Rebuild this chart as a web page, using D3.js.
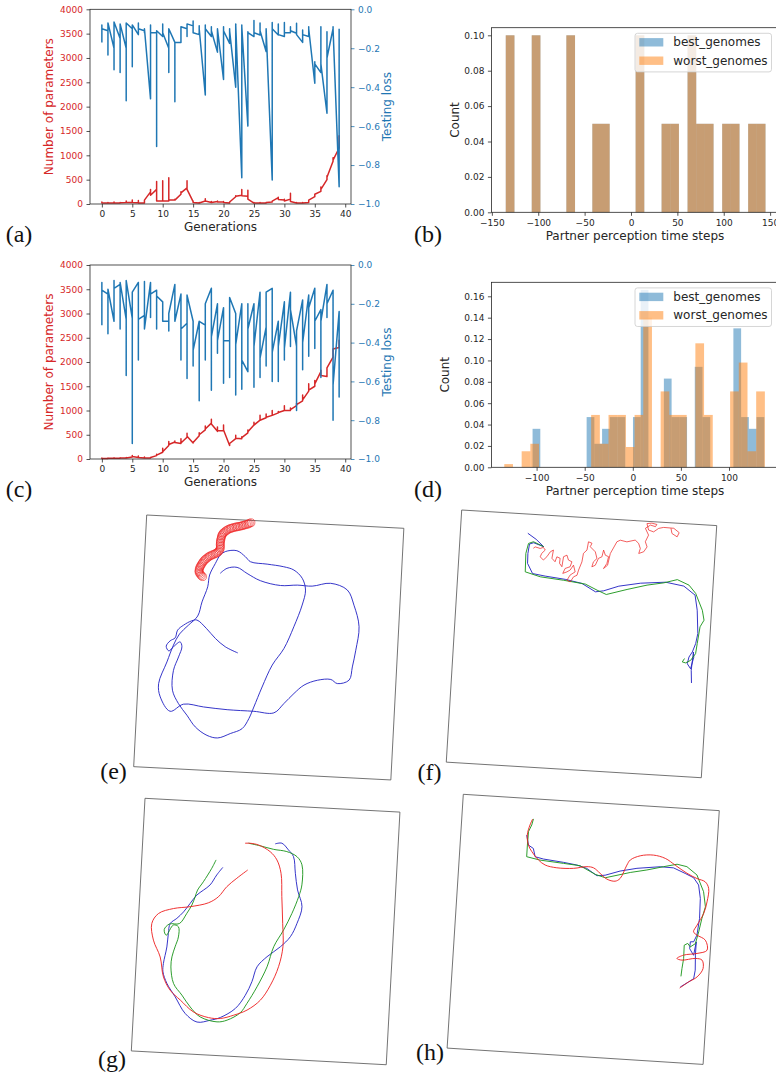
<!DOCTYPE html>
<html>
<head>
<meta charset="utf-8">
<script src="https://cdn.jsdelivr.net/npm/d3@7"></script>
<style>
  body { margin: 0; background: #fff; }
  svg text { font-family: "DejaVu Sans", sans-serif; }
</style>
</head>
<body>
<div id="fig"></div>
<script>
// ---------- data ----------
var gens = d3.range(40);
var genTicks = [0, 5, 10, 15, 20, 25, 30, 35, 40];
var paramTicks = [0, 500, 1000, 1500, 2000, 2500, 3000, 3500, 4000];
var lossTicks = [-1, -0.8, -0.6, -0.4, -0.2, 0];

// (a) testing loss / number of parameters, several individuals per generation
var lossA = [[-0.17,-0.08,-0.10],[-0.11,-0.235,-0.07],[-0.2,-0.31,-0.065],[-0.15,-0.325,-0.075],[-0.2,-0.47,-0.07],
  [-0.1,-0.295,-0.08],[-0.13,-0.07,-0.1],[-0.11,-0.12,-0.1],[-0.46,-0.08,-0.12],[-0.12,-0.705,-0.11],
  [-0.14,-0.075,-0.12],[-0.2,-0.325,-0.1],[-0.17,-0.475,-0.17],[-0.17,-0.1,-0.09],[-0.1,-0.14,-0.075],
  [-0.085,-0.06,-0.12],[-0.13,-0.085,-0.1],[-0.44,-0.08,-0.1],[-0.14,-0.09,-0.11],[-0.22,-0.1,-0.1],
  [-0.36,-0.09,-0.11],[-0.175,-0.1,-0.11],[-0.4,-0.075,-0.08],[-0.865,-0.08,-0.09],[-0.6,-0.115,-0.12],
  [-0.14,-0.058,-0.12],[-0.132,-0.07,-0.11],[-0.217,-0.1,-0.1],[-0.877,-0.068,-0.1],[-0.132,-0.075,-0.13],
  [-0.14,-0.068,-0.12],[-0.12,-0.089,-0.11],[-0.123,-0.072,-0.13],[-0.17,-0.106,-0.13],[-0.14,-0.089,-0.1],
  [-0.38,-0.27,-0.28],[-0.325,-0.089,-0.28],[-0.534,-0.115,-0.25],[-0.1,-0.089,-0.1],[-0.911,-0.106,-0.1]];
var paramsA = [[20,40,20],[20,30,20],[25,40,20],[20,30,25],[30,60,30],[30,80,30],[25,70,20],[20,30,80],
  [250,300,180],[300,460,60],[60,480,60],[60,540,80],[80,100,80],[200,250,230],[330,480,300],[50,60,30],
  [20,30,20],[60,110,60],[30,50,30],[50,60,40],[40,50,30],[20,30,40],[150,170,160],[180,300,170],
  [160,280,100],[20,30,20],[20,30,20],[20,30,30],[40,50,60],[130,140,90],[80,100,60],[100,220,50],
  [20,30,20],[20,30,20],[30,40,80],[150,170,200],[260,350,300],[500,580,550],[880,950,900],[1150,1400,1250]];

// (c)
var lossC = [[-0.31,-0.09,-0.13],[-0.15,-0.355,-0.125],[-0.29,-0.08,-0.12],[-0.10,-0.33,-0.09],[-0.28,-0.57,-0.08],
  [-0.275,-0.92,-0.14],[-0.09,-0.49,-0.28],[-0.26,-0.085,-0.33],[-0.09,-0.27,-0.15],[-0.13,-0.33,-0.16],
  [-0.19,-0.29,-0.29],[-0.29,-0.34,-0.25],[-0.10,-0.29,-0.29],[-0.15,-0.49,-0.33],[-0.30,-0.585,-0.155],
  [-0.29,-0.52,-0.44],[-0.29,-0.70,-0.29],[-0.31,-0.49,-0.2],[-0.12,-0.645,-0.37],[-0.2,-0.455,-0.39],
  [-0.22,-0.61,-0.39],[-0.39,-0.58,-0.167],[-0.25,-0.67,-0.41],[-0.2,-0.64,-0.49],[-0.55,-0.2,-0.33],
  [-0.2,-0.63,-0.42],[-0.14,-0.58,-0.48],[-0.32,-0.52,-0.14],[-0.12,-0.60,-0.45],[-0.29,-0.60,-0.42],
  [-0.19,-0.49,-0.43],[-0.14,-0.42,-0.23],[-0.42,-0.75,-0.34],[-0.18,-0.54,-0.4],[-0.155,-0.47,-0.22],
  [-0.12,-0.43,-0.29],[-0.23,-0.58,-0.29],[-0.1,-0.27,-0.2],[-0.13,-0.8,-0.62],[-0.24,-0.68,-0.45]];
var paramsC = [[10,20,10],[10,20,15],[15,25,15],[15,25,20],[20,30,20],[40,70,50],[30,60,30],[20,40,20],
  [20,30,30],[70,100,80],[140,220,150],[280,360,300],[350,370,340],[320,420,330],[450,530,470],[330,350,340],
  [480,540,500],[600,680,620],[740,820,720],[570,660,580],[580,700,600],[280,300,320],[420,490,430],[420,460,440],
  [540,600,560],[700,760,700],[800,900,800],[850,930,860],[900,1000,900],[950,980,960],[1000,1100,1000],[1000,1050,1020],
  [1100,1150,1120],[1200,1320,1220],[1400,1550,1420],[1500,1620,1550],[1800,1830,1720],[1700,1850,1880],[2100,2260,2270],[2300,2450,2280]];

// (b) histogram, 30 bins
var bStart = -135, bWidth = 280 / 30;
var bBest  = [0.1,0,0,0.1,0,0,0,0.1,0,0,0.05,0.05,0,0,0,0.1,0,0,0.05,0.05,0,0.1,0.05,0.05,0,0.05,0.05,0,0.05,0.05];
var bWorst = [0.1,0,0,0.1,0,0,0,0.1,0,0,0.05,0.05,0,0,0,0.1,0,0,0.05,0.05,0,0.1,0.05,0.05,0,0.05,0.05,0,0.05,0.05];
var bTicksX = [-150, -100, -50, 0, 50, 100, 150];
var bTicksY = [0, 0.02, 0.04, 0.06, 0.08, 0.10];

// (d) histogram, 30 bins each, own ranges
var dBestStart = -104.2, dBestWidth = 8.03;
var dBest  = [0.036,0,0,0,0,0,0,0.047,0.022,0.036,0.047,0.047,0,0.047,0.166,0,0,0.083,0.047,0.047,0,0.094,0.047,0,0,0,0.13,0.047,0.036,0.047];
var dWorstStart = -133.6, dWorstWidth = 9.03;
var dWorst = [0.003,0,0.015,0.022,0,0,0,0,0,0,0.049,0.022,0.049,0.049,0.019,0.049,0.14,0,0.071,0.049,0.049,0,0.116,0.049,0,0,0.071,0.098,0.015,0.071];
var dTicksX = [-100, -50, 0, 50, 100];
var dTicksY = [0, 0.02, 0.04, 0.06, 0.08, 0.10, 0.12, 0.14, 0.16];

var seriesNames = ["best_genomes", "worst_genomes"];

// trajectories, arena coordinates 0..100
var eBlue = [[38.1,52.8],[33.1,50.6],[29.1,47.5],[25.4,43.7],[21.6,40.6],[19.6,41.0],[16.5,42.9],[14.3,45.0],[13.5,48.1],[11.6,49.4],[10.2,51.6],[11.3,53.4],[13.0,51.7],[15.5,49.6],[16.3,51.5],[15.2,55.6],[13.5,61.0],[13.5,68.9],[16.1,74.1],[19.6,78.5],[23.1,83.0],[27.8,86.1],[32.0,86.9],[36.8,84.9],[41.3,82.7],[43.7,78.6],[45.4,73.9],[48.2,65.8],[51.7,56.9],[55.9,50.1],[59.3,41.3],[62.1,32.5],[63.1,26.5],[61.6,21.9],[58.2,18.8],[54.2,17.7],[47.7,17.0],[41.2,16.4],[39.1,14.5],[35.7,12.3],[31.2,12.9],[29.3,14.4],[27.6,17.8],[25.6,22.5],[25.1,27.2],[23.2,33.3],[21.8,39.0],[18.4,42.8],[15.1,46.5],[13.0,51.0],[10.8,57.8],[8.0,66.6],[8.9,71.8],[13.0,77.3],[18.1,74.2],[25.9,74.9],[35.1,75.5],[45.5,75.6],[53.3,75.8],[57.0,71.9],[60.7,67.7],[64.4,64.2],[69.5,62.0],[74.7,61.4],[77.3,62.9],[81.8,61.3],[82.8,56.0],[83.8,49.3],[84.6,39.9],[82.2,31.5],[79.3,25.6],[72.7,23.3],[65.6,24.8],[59.8,24.7],[53.3,25.2],[45.4,23.7],[40.1,21.1],[36.1,18.9],[32.2,19.5],[29.7,21.6]];
var eRed = [[40.6,0.9],[40.0,1.2],[39.5,1.5],[38.9,1.7],[38.3,1.9],[37.7,2.1],[37.2,2.3],[36.6,2.5],[36.0,2.6],[35.4,2.8],[34.9,2.9],[34.3,3.1],[33.7,3.3],[33.1,3.5],[32.6,3.7],[32.0,4.0],[31.4,4.4],[30.9,4.8],[30.4,5.3],[30.0,5.7],[29.7,6.2],[29.5,6.7],[29.4,7.3],[29.3,7.9],[29.2,8.5],[29.1,9.1],[29.1,9.7],[29.1,10.3],[29.2,10.9],[29.2,11.5],[29.1,12.1],[28.8,12.7],[28.4,13.2],[27.9,13.6],[27.4,13.9],[26.8,14.2],[26.2,14.5],[25.6,14.8],[25.1,15.1],[24.6,15.5],[24.1,16.0],[23.6,16.4],[23.2,16.9],[22.8,17.4],[22.5,18.0],[22.2,18.5],[21.9,19.1],[21.7,19.6],[21.5,20.2],[21.4,20.8],[21.4,21.4],[21.6,21.9],[22.0,22.4],[22.4,22.9],[22.9,23.3]];

var fBlue = [[26.4,7.6],[29.8,9.8],[32.9,12.5],[28.9,11.2],[27.3,11.8],[26.9,15.6],[27.0,19.5],[29.2,23.4],[34.2,24.1],[42.1,24.9],[48.7,26.1],[54.2,29.1],[57.4,28.5],[63.2,26.3],[71.6,24.6],[81.4,23.6],[88.6,24.7],[93.2,28.0],[94.4,33.9],[95.2,43.1],[94.6,47.1],[93.5,50.5],[92.3,52.6],[91.8,55.3],[93.2,57.2],[94.2,52.5],[93.9,50.5],[93.5,57.8],[93.9,62.8]];
var fGreen = [[32.9,12.5],[28.8,10.8],[26.9,11.6],[26.1,15.6],[26.3,22.9],[32.3,24.5],[41.5,25.3],[50.1,26.3],[54.8,28.4],[58.5,29.9],[66.5,27.4],[74.2,25.2],[80.7,23.9],[85.9,22.3],[90.6,24.2],[93.4,27.3],[96.4,33.8],[97.3,37.7],[95.9,40.4],[95.2,47.1],[94.8,51.1],[93.0,53.9],[91.1,55.0],[89.8,54.7],[90.6,53.3]];
var fRed = [[28.9,13.4],[29.6,12.8],[31.6,13.3],[32.8,12.8],[33.6,13.8],[32.3,15.2],[31.8,16.6],[33.1,17.8],[34.4,16.4],[35.6,14.4],[36.8,13.6],[36.4,16.9],[37.7,18.2],[38.3,16.2],[39.6,16.7],[39.5,18.7],[40.5,20.0],[40.9,16.0],[42.2,15.3],[42.9,17.2],[44.3,17.8],[43.7,19.8],[41.8,20.6],[41.0,22.6],[42.6,21.9],[43.8,21.1],[45.0,19.1],[45.8,21.7],[43.9,23.1],[42.8,25.2],[44.1,25.8],[45.3,23.7],[46.6,23.0],[47.1,20.9],[48.2,17.6],[48.6,14.2],[49.9,12.8],[50.3,9.5],[51.7,10.0],[51.1,11.4],[53.2,13.3],[54.0,15.9],[52.7,17.3],[52.2,19.3],[53.5,18.6],[54.6,15.8],[55.9,15.1],[56.4,12.4],[57.2,14.4],[58.5,14.9],[58.0,17.6],[56.8,19.7],[58.3,18.3],[59.1,13.6],[61.4,8.8],[62.7,8.1],[65.3,8.6],[68.5,7.7],[69.9,8.9],[70.7,10.9],[70.2,12.9],[72.1,12.1],[73.3,10.1],[72.5,8.1],[73.6,5.4],[72.2,2.8],[74.1,1.4],[76.1,1.9],[76.6,1.0],[74.6,0.6],[72.7,0.9],[73.5,3.4],[75.5,4.0],[77.4,2.5],[79.3,2.0],[83.3,2.1],[85.5,3.7],[84.8,5.4],[82.7,4.2],[82.2,2.2]];

var gRed = [[41.7,26.1],[37.6,29.6],[33.9,33.1],[30.8,37.3],[27.0,39.9],[20.0,41.8],[13.5,42.9],[7.7,45.2],[5.3,49.3],[6.3,55.8],[9.3,62.3],[11.0,70.1],[13.9,75.2],[18.1,78.9],[23.5,83.3],[29.5,85.2],[34.1,85.3],[39.3,83.7],[44.4,81.4],[49.4,77.2],[53.0,71.1],[55.8,63.6],[57.1,55.6],[56.5,46.4],[55.6,35.9],[54.8,26.7],[52.9,21.5],[50.1,18.4],[45.4,16.0],[42.1,15.5],[40.1,15.6]];
var gGreen = [[29.1,22.8],[27.6,26.2],[24.6,31.7],[22.5,35.1],[21.7,37.8],[20.6,41.1],[18.8,44.5],[16.1,48.7],[12.2,49.1],[10.3,51.4],[11.2,53.6],[13.8,49.4],[15.8,50.0],[16.0,54.0],[14.9,58.0],[13.9,62.0],[13.7,66.0],[15.1,72.5],[18.6,76.9],[22.1,81.4],[26.2,85.1],[32.9,86.7],[36.8,85.8],[41.8,82.6],[44.2,78.8],[47.8,72.0],[51.3,63.9],[53.5,55.8],[57.0,49.0],[59.9,42.3],[62.2,35.5],[63.2,30.8],[62.8,22.9],[60.7,19.8],[56.6,18.0],[51.4,17.4],[46.1,16.3],[41.4,15.5]];
var gBlue = [[31.9,25.6],[29.7,28.7],[27.3,32.8],[24.8,35.0],[22.3,37.1],[19.9,40.5],[17.5,44.0],[15.0,46.7],[12.5,48.9],[12.0,52.8],[11.7,58.2],[10.7,64.8],[10.7,68.1],[12.5,72.6],[16.0,77.7],[20.3,84.1],[25.1,87.2],[30.2,86.2],[34.1,84.9],[39.8,81.0],[43.4,75.6],[45.7,70.1],[47.4,64.1],[51.1,59.9],[56.1,55.7],[59.8,51.5],[62.1,46.1],[63.7,39.4],[61.6,32.9],[60.4,26.4],[59.3,19.8],[57.2,17.3],[54.5,14.8],[51.9,15.2]];

var hRed = [[27.6,8.0],[26.7,10.4],[25.9,14.4],[26.6,18.3],[28.1,20.8],[30.9,23.9],[33.6,25.7],[38.2,26.5],[44.7,26.3],[49.9,25.3],[52.5,25.6],[55.2,27.6],[58.0,29.7],[61.2,30.3],[63.1,29.1],[65.4,23.7],[66.6,21.6],[70.4,19.7],[75.5,19.1],[80.2,20.1],[84.2,22.5],[89.0,25.4],[93.0,27.2],[96.3,28.3],[97.8,30.8],[97.5,36.1],[96.5,40.7],[94.2,45.5],[93.0,48.2],[94.4,49.4],[97.8,51.2],[98.7,55.1],[94.9,56.6],[89.7,57.6],[87.2,59.1],[89.2,59.6],[94.4,58.6],[97.0,59.1],[97.6,62.4],[95.5,65.8],[92.3,68.0],[89.0,70.6]];
var hGreen = [[27.9,7.9],[27.4,10.3],[26.3,13.0],[26.2,18.3],[26.2,22.9],[31.5,23.9],[40.7,24.6],[47.2,25.1],[53.3,28.1],[57.3,29.2],[66.9,26.5],[73.3,25.1],[79.7,23.4],[84.9,22.1],[88.8,22.8],[92.9,25.8],[95.9,32.2],[97.0,38.1],[95.9,42.8],[95.0,48.1],[94.0,52.8],[92.1,54.2],[91.0,52.9],[89.7,53.7],[89.8,59.0],[89.4,62.9],[89.2,66.0]];
var hBlue = [[25.7,14.4],[26.6,18.3],[28.6,19.5],[29.5,22.7],[32.8,23.4],[40.7,24.2],[45.9,24.9],[49.9,26.0],[54.0,28.6],[57.2,28.2],[62.9,26.2],[69.4,24.7],[78.4,23.5],[83.6,23.6],[88.3,25.5],[91.7,27.0],[93.8,29.7],[94.8,34.9],[95.0,42.8],[94.4,49.4],[93.3,52.1],[92.0,52.2],[91.9,54.9],[93.6,57.4],[94.3,52.1],[94.3,57.3],[94.6,63.2],[94.2,66.6],[92.3,68.0],[89.2,70.2]];

// ---------- drawing ----------
var tabRed = "#d62728", tabBlue = "#1f77b4", tabOrange = "#ff7f0e";
var ink = "#262626";

var svg = d3.select("#fig").append("svg")
    .attr("width", 776)
    .attr("height", 1079);

function flatten(perGen) {
  var pts = [];
  perGen.forEach(function(vals, i) {
    vals.forEach(function(v) { pts.push([gens[i], v]); });
  });
  return pts;
}

function styleAxis(g, tickColor, textColor) {
  g.select(".domain").remove();
  g.attr("font-size", 9).attr("font-family", "DejaVu Sans, sans-serif");
  g.selectAll("line").attr("stroke", tickColor).attr("stroke-width", 0.8);
  g.selectAll("text").attr("fill", textColor);
}

function genPanel(top, bottom, loss, params) {
  var left = 90, right = 351;
  var x = d3.scaleLinear().domain([-1.95, 40.95]).range([left, right]);
  var yP = d3.scaleLinear().domain([0, 4000]).range([bottom, top]);
  var yL = d3.scaleLinear().domain([-1, 0]).range([bottom, top]);

  svg.append("path")
      .datum(flatten(params))
      .attr("d", d3.line().x(function(d) { return x(d[0]); }).y(function(d) { return yP(d[1]); }))
      .attr("fill", "none")
      .attr("stroke", tabRed)
      .attr("stroke-width", 1.5)
      .attr("stroke-linejoin", "round");

  svg.append("path")
      .datum(flatten(loss))
      .attr("d", d3.line().x(function(d) { return x(d[0]); }).y(function(d) { return yL(d[1]); }))
      .attr("fill", "none")
      .attr("stroke", tabBlue)
      .attr("stroke-width", 1.5)
      .attr("stroke-linejoin", "round");

  var xa = svg.append("g")
      .attr("transform", "translate(0," + bottom + ")")
      .call(d3.axisBottom(x).tickValues(genTicks).tickSize(3.5).tickPadding(3.5));
  styleAxis(xa, ink, ink);

  var la = svg.append("g")
      .attr("transform", "translate(" + left + ",0)")
      .call(d3.axisLeft(yP).tickValues(paramTicks).tickSize(3.5).tickPadding(3.5).tickFormat(d3.format("d")));
  styleAxis(la, ink, tabRed);

  var ra = svg.append("g")
      .attr("transform", "translate(" + right + ",0)")
      .call(d3.axisRight(yL).tickValues(lossTicks).tickSize(3.5).tickPadding(3.5).tickFormat(d3.format(".1f")));
  styleAxis(ra, tabBlue, tabBlue);

  svg.append("rect")
      .attr("x", left).attr("y", top)
      .attr("width", right - left).attr("height", bottom - top)
      .attr("fill", "none").attr("stroke", ink).attr("stroke-width", 0.8);

  var mid = (top + bottom) / 2;
  svg.append("text")
      .attr("x", (left + right) / 2).attr("y", bottom + 23).attr("dy", "0.35em")
      .attr("text-anchor", "middle").style("font-size", "12px").attr("fill", ink)
      .text("Generations");
  svg.append("text")
      .attr("transform", "translate(49," + mid + ") rotate(-90)").attr("dy", "0.35em")
      .attr("text-anchor", "middle").style("font-size", "12px").attr("fill", tabRed)
      .text("Number of parameters");
  svg.append("text")
      .attr("transform", "translate(387," + mid + ") rotate(-90)").attr("dy", "0.35em")
      .attr("text-anchor", "middle").style("font-size", "12px").attr("fill", tabBlue)
      .text("Testing loss");
}

function histPanel(o) {
  var left = 491.4;
  var x = d3.scaleLinear().domain(o.xDomain).range([left, o.xRight]);
  var y = d3.scaleLinear().domain([0, o.yMax]).range([o.bottom, o.top]);

  o.series.forEach(function(s) {
    var bins = s.counts.map(function(c, i) {
      return { x0: s.start + i * s.width, x1: s.start + (i + 1) * s.width, c: c };
    }).filter(function(d) { return d.c > 0; });
    svg.append("g").selectAll("rect")
      .data(bins)
      .enter()
      .append("rect")
        .attr("x", function(d) { return x(d.x0); })
        .attr("width", function(d) { return x(d.x1) - x(d.x0); })
        .attr("y", function(d) { return y(d.c); })
        .attr("height", function(d) { return y(0) - y(d.c); })
        .attr("fill", s.color)
        .attr("fill-opacity", 0.5);
  });

  var xa = svg.append("g")
      .attr("transform", "translate(0," + o.bottom + ")")
      .call(d3.axisBottom(x).tickValues(o.xTicks).tickSize(3.5).tickPadding(3.5));
  styleAxis(xa, ink, ink);
  var ya = svg.append("g")
      .attr("transform", "translate(" + left + ",0)")
      .call(d3.axisLeft(y).tickValues(o.yTicks).tickSize(3.5).tickPadding(3.5).tickFormat(d3.format(".2f")));
  styleAxis(ya, ink, ink);

  svg.append("rect")
      .attr("x", left).attr("y", o.top)
      .attr("width", o.xRight - left).attr("height", o.bottom - o.top)
      .attr("fill", "none").attr("stroke", ink).attr("stroke-width", 0.8);

  // legend
  var lg = svg.append("g").attr("transform", "translate(635," + (o.top + 5.6) + ")");
  lg.append("rect")
      .attr("width", 136.5).attr("height", 38.6).attr("rx", 2.5)
      .attr("fill", "#fff").attr("fill-opacity", 0.8)
      .attr("stroke", "#cccccc").attr("stroke-width", 0.8);
  o.series.forEach(function(s, i) {
    var cy = 9 + i * 18.4;
    lg.append("rect")
        .attr("x", 4.3).attr("y", cy - 4.2).attr("width", 24).attr("height", 8.4)
        .attr("fill", s.color).attr("fill-opacity", 0.5);
    lg.append("text")
        .attr("x", 38.3).attr("y", cy).attr("dy", "0.35em")
        .style("font-size", "12px").attr("fill", ink)
        .text(s.name);
  });

  svg.append("text")
      .attr("x", 635).attr("y", o.bottom + 23).attr("dy", "0.35em")
      .attr("text-anchor", "middle").style("font-size", "12px").attr("fill", ink)
      .text("Partner perception time steps");
  svg.append("text")
      .attr("transform", "translate(" + o.countX + "," + (o.top + o.bottom) / 2 + ") rotate(-90)").attr("dy", "0.35em")
      .attr("text-anchor", "middle").style("font-size", "12px").attr("fill", ink)
      .text("Count");
}

function trajPanel(o) {
  var g = svg.append("g")
      .attr("transform", "translate(" + o.x + "," + o.y + ") rotate(" + o.angle + ")");
  var sx = d3.scaleLinear().domain([0, 100]).range([0, o.w]);
  var sy = d3.scaleLinear().domain([0, 100]).range([0, o.h]);
  g.append("rect")
      .attr("width", o.w).attr("height", o.h)
      .attr("fill", "none").attr("stroke", "#555").attr("stroke-width", 0.8);
  o.tracks.forEach(function(t) {
    g.append("path")
        .datum(t.pts)
        .attr("d", d3.line().x(function(d) { return sx(d[0]); }).y(function(d) { return sy(d[1]); })
          .curve(t.smooth ? d3.curveCatmullRom.alpha(0.5) : d3.curveLinear))
        .attr("fill", "none")
        .attr("stroke", t.color)
        .attr("stroke-width", t.width || 0.9)
        .attr("stroke-linejoin", "round");
  });
  if (o.circles) {
    g.append("g").selectAll("circle")
      .data(o.circles)
      .enter()
      .append("circle")
        .attr("cx", function(d) { return sx(d[0]); })
        .attr("cy", function(d) { return sy(d[1]); })
        .attr("r", 3.9)
        .attr("fill", "none")
        .attr("stroke", "#ee2222")
        .attr("stroke-width", 0.6);
  }
}

function panelLabel(txt, cx, cy) {
  svg.append("text")
      .attr("x", cx).attr("y", cy + 5.6)
      .attr("text-anchor", "middle")
      .style("font-family", "'Liberation Serif', serif")
      .style("font-size", "24px")
      .attr("fill", "#111")
      .text(txt);
}

genPanel(9.3, 204, lossA, paramsA);
genPanel(265, 459, lossC, paramsC);

histPanel({
  top: 27.7, bottom: 212.3, xDomain: [-150.5, 158.5], xRight: 778, yMax: 0.1043,
  xTicks: bTicksX, yTicks: bTicksY, countX: 455,
  series: [
    { name: seriesNames[0], color: tabBlue, start: bStart, width: bWidth, counts: bBest },
    { name: seriesNames[1], color: tabOrange, start: bStart, width: bWidth, counts: bWorst }
  ]
});
histPanel({
  top: 282.3, bottom: 467.3, xDomain: [-147, 149.5], xRight: 776.6, yMax: 0.1731,
  xTicks: dTicksX, yTicks: dTicksY, countX: 445,
  series: [
    { name: seriesNames[0], color: tabBlue, start: dBestStart, width: dBestWidth, counts: dBest },
    { name: seriesNames[1], color: tabOrange, start: dWorstStart, width: dWorstWidth, counts: dWorst }
  ]
});

var cBlue = "#2525c4", cGreen = "#1c961c", cRed = "#ee2222";
trajPanel({ x: 146.7, y: 515, angle: 2.96, w: 257.5, h: 252,
  tracks: [{ pts: eBlue, color: cBlue, smooth: true }], circles: eRed });
trajPanel({ x: 461.7, y: 510, angle: 3.5, w: 255.5, h: 252.6,
  tracks: [{ pts: fBlue, color: cBlue }, { pts: fGreen, color: cGreen }, { pts: fRed, color: cRed, width: 0.7 }] });
trajPanel({ x: 145, y: 798.3, angle: 3.1, w: 255.3, h: 253,
  tracks: [{ pts: gBlue, color: cBlue, smooth: true }, { pts: gGreen, color: cGreen, smooth: true }, { pts: gRed, color: cRed, smooth: true }] });
trajPanel({ x: 463.3, y: 794.3, angle: 3.65, w: 256.5, h: 254.3,
  tracks: [{ pts: hBlue, color: cBlue }, { pts: hGreen, color: cGreen }, { pts: hRed, color: cRed, smooth: true }] });

panelLabel("(a)", 19, 236.5);
panelLabel("(b)", 428, 236.5);
panelLabel("(c)", 19, 491.5);
panelLabel("(d)", 428, 491.5);
panelLabel("(e)", 113.5, 773.5);
panelLabel("(f)", 429.5, 774);
panelLabel("(g)", 112, 1061);
panelLabel("(h)", 430, 1054);
</script>
</body>
</html>
